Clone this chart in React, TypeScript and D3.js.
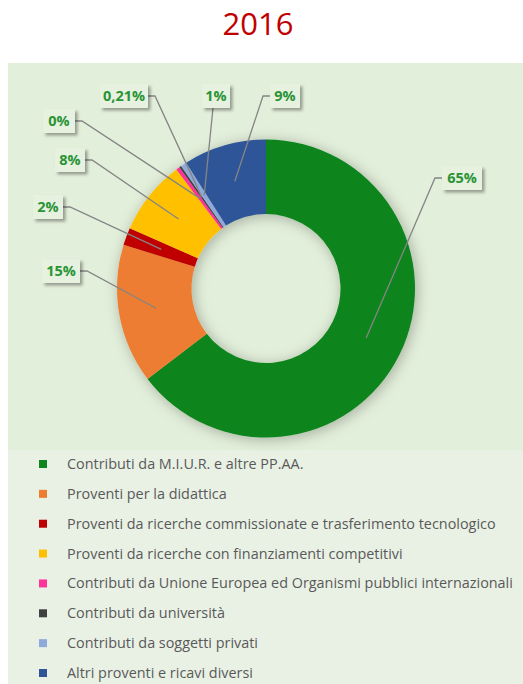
import React from 'react';
import * as d3 from 'd3';

const categories = [
  'Contributi da M.I.U.R. e altre PP.AA.',
  'Proventi per la didattica',
  'Proventi da ricerche commissionate e trasferimento tecnologico',
  'Proventi da ricerche con finanziamenti competitivi',
  'Contributi da Unione Europea ed Organismi pubblici internazionali',
  'Contributi da università',
  'Contributi da soggetti privati',
  'Altri proventi e ricavi diversi',
];
const values = [64.6, 15.1, 1.9, 8.1, 0.4, 0.21, 0.65, 9.0];
const labels = ['65%', '15%', '2%', '8%', '0%', '0,21%', '1%', '9%'];
const colors = ['#0e851e', '#ed7d31', '#c00000', '#ffc000', '#ff3399', '#404040', '#8eaadb', '#2f5597'];

// label box placement (layout only): center x, center y, width, side where leader attaches
const labelBoxes: { x: number; y: number; w: number; side: 'left' | 'right' | 'bottom' }[] = [
  { x: 462, y: 178, w: 40, side: 'left' },
  { x: 61, y: 271, w: 38, side: 'right' },
  { x: 48, y: 207, w: 30, side: 'right' },
  { x: 70, y: 160, w: 30, side: 'right' },
  { x: 59, y: 121, w: 32, side: 'right' },
  { x: 124, y: 96, w: 48, side: 'right' },
  { x: 216, y: 96, w: 28, side: 'bottom' },
  { x: 285, y: 96, w: 30, side: 'left' },
];

const W = 523;
const H = 684;
const cx = 266;
const cy = 288.5;
const outerR = 149;
const innerR = 74.5;

export default function App() {
  const pie = d3.pie<number>().sort(null).value((d) => d);
  const arcs = pie(values);
  const arc = d3.arc<d3.PieArcDatum<number>>().innerRadius(innerR).outerRadius(outerR);
  const legendY = d3.scaleLinear().domain([0, categories.length - 1]).range([464, 673]);

  return (
    <svg width={W} height={H} style={{ position: 'absolute', left: 0, top: 0 }}>
      <defs>
        <filter id="ringShadow" x="-30%" y="-30%" width="160%" height="160%">
          <feDropShadow dx="2" dy="2" stdDeviation="7" floodColor="#000" floodOpacity="0.28" />
        </filter>
        <filter id="boxShadow" x="-30%" y="-30%" width="170%" height="180%">
          <feDropShadow dx="2.5" dy="2.5" stdDeviation="1.5" floodColor="#000" floodOpacity="0.35" />
        </filter>
      </defs>
      <rect width={W} height={H} fill="#fff" />
      <text x={258} y={35} textAnchor="middle" fontFamily="'Open Sans', sans-serif" fontSize={31} fill="#c00000">
        2016
      </text>
      <rect x={8} y={63} width={W - 8} height={387} fill="#e2efda" />
      <rect x={8} y={450} width={W - 8} height={H - 450} fill="#e9f1e5" />

      <g transform={`translate(${cx},${cy})`}>
        <g filter="url(#ringShadow)">
          {arcs.map((a, i) => (
            <path key={i} d={arc(a) || ''} fill={colors[i]} />
          ))}
        </g>
        {arcs.map((a, i) => {
          const [px, py] = arc.centroid(a);
          const b = labelBoxes[i];
          const bx = b.x - cx;
          const by = b.y - cy;
          let sx = bx;
          let sy = by;
          let kx = bx;
          let ky = by;
          if (b.side === 'right') {
            sx = bx + b.w / 2;
            kx = sx + 7;
          } else if (b.side === 'left') {
            sx = bx - b.w / 2;
            kx = sx - 7;
          } else {
            sy = by + 12;
            ky = sy;
            sx = bx - 3;
            kx = sx;
          }
          return (
            <path
              key={`l${i}`}
              d={`M${sx},${sy}L${kx},${ky}L${px},${py}`}
              fill="none"
              stroke="#858585"
              strokeWidth={1.3}
            />
          );
        })}
      </g>

      {labelBoxes.map((b, i) => (
        <g key={`b${i}`}>
          <rect
            x={b.x - b.w / 2}
            y={b.y - 12}
            width={b.w}
            height={24}
            fill="#e6f1df"
            filter="url(#boxShadow)"
          />
          <text
            x={b.x}
            y={b.y + 5}
            textAnchor="middle"
            fontFamily="'Open Sans', sans-serif"
            fontWeight="bold"
            fontSize={14.5}
            fill="#2a9436"
          >
            {labels[i]}
          </text>
        </g>
      ))}

      {categories.map((c, i) => (
        <g key={`g${i}`} transform={`translate(0,${legendY(i)})`}>
          <rect x={39} y={-4} width={8} height={8} fill={colors[i]} />
          <text x={67} y={5} fontFamily="'Open Sans', sans-serif" fontSize={14.4} fill="#595959">
            {c}
          </text>
        </g>
      ))}
    </svg>
  );
}
